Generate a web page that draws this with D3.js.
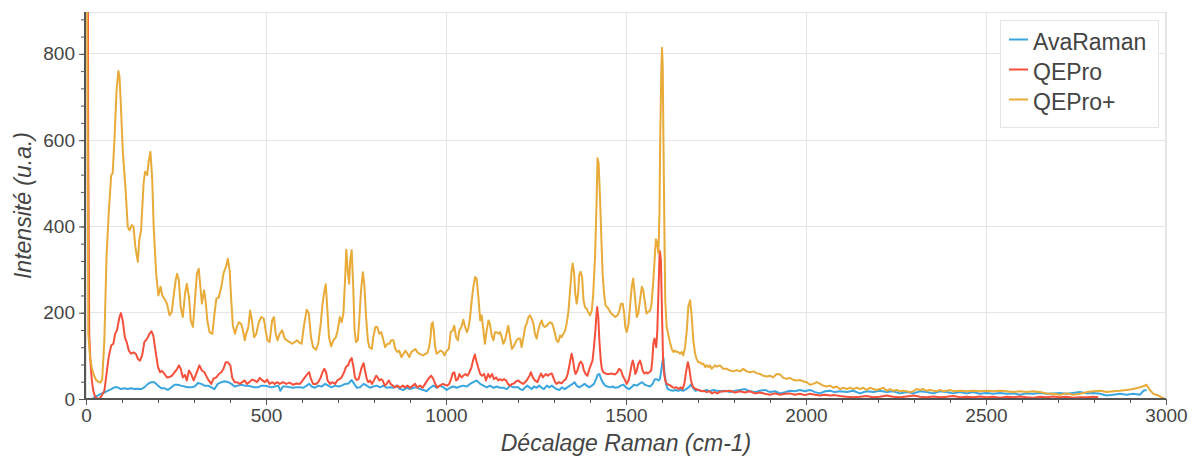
<!DOCTYPE html>
<html>
<head>
<meta charset="utf-8">
<script src="https://cdn.jsdelivr.net/npm/d3@7"></script>
<style>
  html, body { margin: 0; padding: 0; background: #fff; }
  svg { display: block; font-family: "Liberation Sans", Arial, Helvetica, sans-serif; }
</style>
</head>
<body>
<svg id="chart" width="1197" height="456"></svg>
<script>
// Raman spectra measured with three spectrometers (intensity in arbitrary units)
const seriesNames = ["AvaRaman", "QEPro", "QEPro+"];
const xTicks = [0, 500, 1000, 1500, 2000, 2500, 3000];
const yTicks = [0, 200, 400, 600, 800];

const avaShift = [20,23,32,42,51,60,70,79,88,97,107,116,125,135,144,153,162,172,181,190,200,209,218,227,237,246,255,264,274,283,292,302,311,320,329,339,348,357,366,376,385,395,404,413,422,431,441,450,459,468,478,487,496,506,515,524,534,540,547,556,566,575,584,594,
604,613,620,627,636,645,655,664,673,682,692,701,710,720,729,738,745,752,761,771,780,789,798,808,817,826,835,845,854,863,872,882,891,900,909,919,928,937,946,956,965,974,983,993,1002,1011,1020,1030,1039,1048,1058,1067,1076,1085,1095,1104,1113,1122,1132,1141,1150,1159,1169,1178,1187,1201,
1206,1213,1220,1226,1232,1238,1244,1252,1259,1266,1272,1280,1287,1294,1300,1307,1315,1322,1330,1337,1344,1352,1357,1363,1370,1378,1385,1391,1398,1405,1411,1417,1421,1426,1431,1435,1442,1448,1456,1463,1470,1478,1485,1493,1500,1508,1515,1522,1530,1537,1545,1552,1559,1567,1574,1580,1585,1590,1594,1598,1601,1604,1607,1611,1616,1622,1630,1637,1645,1652,1659,1667,1674,1680,1685,1693,1700,1708,1715,1724,1733,1743,1752,
1761,1775,1789,1803,1817,1830,1844,1858,1872,1886,1900,1914,1928,1942,1955,1969,1983,1997,2011,2025,2039,2053,2067,2080,2094,2113,2131,2150,2168,2187,2205,2224,2242,2261,2280,2298,2317,2335,2354,2372,2391,2409,2428,2446,2465,2483,2502,2520,2539,2557,2576,2594,2613,2631,2650,2668,2687,2705,2724,2742,2761,2780,2798,2817,2835,2854,2872,2891,2909,2928,2937,2946];
const avaIntensity = [2,4,8,12,15,19,23,27,27,23,25,23,25,23,24,23,27,35,39,39,31,25,25,21,27,33,33,31,29,27,27,29,37,35,31,31,27,23,35,39,41,39,35,29,31,33,31,31,29,27,27,31,31,29,27,29,31,19,29,29,27,26,27,27,
26,31,35,29,26,31,29,35,31,27,31,29,31,35,36,44,35,26,27,35,31,26,29,31,27,31,26,27,26,31,23,21,26,23,26,27,23,21,18,26,31,26,31,27,21,26,29,26,29,31,29,35,39,43,35,31,27,31,26,29,26,26,23,31,27,27,
23,21,27,31,27,23,29,26,31,26,23,31,27,31,27,23,21,27,23,27,31,35,39,31,27,31,35,31,27,31,35,46,56,58,46,39,31,29,27,29,26,27,31,33,27,23,27,33,31,35,39,33,31,29,35,46,46,43,46,66,85,95,60,35,23,21,19,21,19,21,19,23,27,33,27,19,21,19,18,21,18,21,19,
18,19,16,19,21,23,18,16,19,21,16,18,13,16,19,18,21,18,21,16,13,18,19,16,18,16,19,13,18,16,19,16,18,13,16,13,18,16,13,18,16,13,16,13,16,12,14,12,14,12,13,10,13,12,14,12,13,14,12,14,16,13,14,12,8,10,12,10,12,10,19,21];

const qeShift = [2,6,9,12,16,20,25,30,35,40,45,51,57,63,70,76,81,86,93,97,102,108,113,119,125,132,139,144,150,156,162,170,176,182,187,193,200,206,211,218,225,232,239,246,252,258,263,269,275,280,286,292,299,306,315,322,329,336,341,348,354,362,369,376,382,388,394,401,406,413,419,427,434,441,447,454,461,468,475,483,490,497,503,510,518,524,531,538,547,556,566,575,584,594,
602,608,615,620,625,631,639,645,652,657,662,667,671,678,684,692,698,704,710,717,722,728,733,738,743,747,752,757,761,766,771,775,780,784,789,794,800,806,810,815,820,824,830,835,841,846,852,858,865,872,880,886,893,900,908,914,920,928,935,942,948,954,959,965,970,976,983,991,997,1004,1009,1014,1019,1023,1028,1033,1037,1043,1048,1054,1060,1065,1071,1075,1080,1084,1089,1095,1100,1106,1111,1117,1122,1128,1133,1139,1145,1150,1156,1161,1167,1172,1178,1184,1189,1195,1201,
1206,1215,1224,1232,1236,1241,1247,1254,1259,1264,1269,1273,1278,1283,1289,1294,1298,1303,1307,1314,1321,1328,1333,1338,1342,1346,1349,1353,1357,1360,1365,1370,1374,1379,1383,1388,1393,1397,1402,1407,1411,1415,1418,1420,1423,1426,1430,1433,1437,1443,1448,1454,1459,1465,1470,1476,1481,1486,1491,1496,1502,1507,1511,1516,1519,1522,1526,1530,1534,1539,1543,1546,1551,1556,1560,1565,1570,1573,1576,1579,1582,1584,1587,1590,1593,1594,1597,1600,1603,1606,1609,1613,1619,1624,1630,1635,1641,1646,1652,1657,1662,1666,1670,1672,1676,1680,1683,1687,1694,1702,1709,1717,1724,1732,1739,1746,1754,
1761,1775,1789,1803,1817,1830,1844,1858,1872,1886,1900,1914,1928,1942,1955,1969,1983,1997,2011,2025,2039,2053,2067,2080,2094,2113,2131,2150,2168,2187,2205,2224,2242,2261,2280,2298,2317,2335,2354,2372,2391,2409,2428,2446,2465,2483,2502,2520,2539,2557,2576,2594,2613,2631,2650,2668,2687,2705,2724,2742,2761,2780,2798,2812];
const qeIntensity = [3000,600,150,90,45,20,6,2,0,3,10,19,58,97,124,128,151,159,190,199,182,143,132,112,105,108,104,93,89,101,132,140,151,157,147,112,74,62,65,58,50,51,54,62,68,78,70,50,56,43,66,58,43,58,78,66,62,50,43,35,47,50,58,62,70,85,85,78,50,39,39,35,39,43,35,39,45,43,39,49,43,39,45,35,39,35,39,35,39,35,38,33,36,35,
43,50,58,62,46,35,35,39,50,62,70,62,43,35,39,35,43,46,50,62,74,78,89,95,74,50,44,46,58,74,83,66,46,39,43,35,43,54,50,43,46,43,31,35,43,35,31,27,31,26,31,27,31,26,31,35,27,31,26,35,43,50,54,46,35,27,31,35,33,31,35,46,60,62,43,46,58,50,54,58,54,62,74,89,103,89,74,58,54,58,43,58,50,58,46,50,43,46,43,46,43,35,31,35,36,41,43,
39,35,43,54,62,50,43,39,50,59,50,54,58,54,58,59,50,39,35,39,36,43,46,58,74,93,105,89,66,58,66,81,87,81,66,58,54,66,78,89,120,159,198,213,190,136,89,70,62,59,58,58,59,58,57,62,70,66,54,46,35,43,58,81,89,78,58,66,81,89,78,66,59,62,59,62,66,89,128,140,128,120,159,244,329,343,321,198,89,58,43,35,33,31,27,26,27,23,27,23,35,58,78,85,70,46,35,27,23,21,18,19,16,18,13,16,13,
17,18,19,15,18,15,18,13,15,12,10,13,10,12,13,10,12,9,12,10,8,10,8,9,7,5,4,5,7,4,5,8,5,4,6,8,5,4,6,4,5,7,4,5,4,6,4,5,3,5,4,6,4,3,5,4,6,4,5,3,4,4,5,4];

const plusShift = [0,3,6.5,11,16,22,28,34,40,45,51,57,63,70,74,79,85,90,93,97,102,110,116,121,127,132,137,144,148,153,160,164,170,174,179,184,188,195,201,207,212,218,225,232,238,243,249,253,258,263,269,275,280,286,291,297,302,308,313,317,322,328,332,337,343,351,357,362,369,376,382,390,394,399,404,408,414,419,425,431,436,441,445,451,456,461,467,473,480,487,494,499,504,510,517,522,527,532,538,545,552,558,566,573,580,586,594,
599,605,613,619,625,631,639,645,652,656,661,666,670,675,681,687,694,699,705,710,715,720,723,727,731,734,738,742,746,750,755,759,764,769,773,778,783,787,794,798,804,809,815,820,824,831,837,843,848,854,859,865,870,876,882,887,893,898,904,909,915,920,926,931,937,943,948,953,957,960,963,966,970,974,980,985,991,996,1002,1008,1013,1019,1023,1028,1033,1037,1043,1048,1053,1058,1062,1067,1071,1076,1081,1085,1090,1095,1099,1104,1108,1113,1118,1122,1127,1132,1136,1141,1146,1150,1155,1159,1164,1169,1173,1178,1183,1187,1192,1196,1201,
1206,1210,1215,1220,1224,1229,1233,1238,1243,1247,1252,1256,1261,1266,1270,1275,1280,1284,1289,1294,1298,1303,1307,1312,1317,1321,1326,1331,1335,1340,1344,1349,1352,1356,1359,1363,1367,1370,1374,1378,1382,1386,1391,1395,1400,1405,1409,1414,1418,1421,1424,1428,1432,1435,1439,1443,1448,1454,1459,1465,1470,1476,1481,1486,1491,1495,1498,1502,1507,1511,1516,1520,1525,1530,1534,1539,1544,1548,1553,1557,1562,1567,1571,1576,1580,1583,1587,1590,1593,1595,1598,1600,1602,1604,1607,1609,1613,1618,1622,1627,1632,1636,1641,1645,1650,1655,1659,1664,1669,1673,1678,1682,1687,1692,1696,1701,1706,1710,1715,1720,1724,1729,1733,1738,1743,1747,1752,
1761,1770,1780,1789,1798,1807,1817,1826,1835,1844,1854,1863,1872,1881,1891,1900,1909,1918,1928,1937,1946,1955,1965,1974,1983,1992,2002,2011,2020,2030,2039,2048,2057,2067,2076,2085,2094,2104,2113,2122,2131,2141,2150,2159,2168,2178,2187,2196,2205,2215,2224,2233,2242,2252,2261,2270,2280,2289,2298,2307,2317,2326,2335,2344,2354,2363,2372,2381,2391,2400,2409,2428,2446,2465,2483,2502,2520,2539,2557,2576,2594,2613,2631,2650,2668,2687,2705,2724,2742,2761,2780,2798,2817,2835,2854,2872,2891,2909,2923,2935,2946,2955,2965,2979,2988,2997];
const plusIntensity = [3000,1000,150,100,72,55,44,40,38,45,136,329,430,519,523,600,717,760,748,678,577,484,399,391,403,399,353,318,368,391,500,527,519,550,573,508,399,290,240,260,240,232,221,194,201,236,275,290,275,213,190,244,267,236,182,167,221,290,302,267,221,252,229,182,155,151,198,232,236,260,291,310,325,298,221,170,151,167,178,174,159,136,151,167,205,182,143,151,178,190,186,159,136,132,182,190,151,136,151,159,140,136,132,128,132,136,130,
128,167,207,198,143,120,114,128,174,213,244,266,213,143,122,136,143,159,190,178,198,283,346,298,267,322,345,267,159,132,136,182,252,294,267,190,136,120,116,143,167,167,151,155,143,120,128,128,136,136,116,109,112,97,105,112,105,97,109,112,116,109,105,103,101,105,106,120,143,174,178,159,120,105,109,112,109,101,112,116,155,159,170,143,136,159,167,184,167,155,163,190,225,260,283,279,236,182,194,159,128,159,182,174,147,136,155,155,151,155,143,128,136,155,170,143,116,120,129,136,140,
140,120,143,167,174,190,194,186,174,151,140,159,174,182,170,167,170,174,178,176,167,151,136,132,147,143,151,159,174,202,244,298,314,291,244,221,244,287,295,283,229,213,209,202,194,205,244,329,446,558,546,461,360,291,244,217,213,205,198,194,190,194,202,221,221,198,167,155,174,213,260,279,236,190,198,229,260,252,221,198,202,205,221,275,329,370,360,337,430,600,756,814,771,600,368,229,167,147,132,116,109,112,109,109,105,109,101,120,159,213,229,198,136,105,93,85,85,81,82,74,78,74,78,70,74,78,75,
78,70,70,66,64,67,64,70,64,62,64,60,58,54,52,54,50,58,57,49,47,49,44,43,44,41,39,33,35,39,35,31,29,31,26,29,23,26,23,26,23,26,23,26,21,26,23,21,23,26,19,23,19,21,18,19,18,16,18,23,21,23,19,21,19,18,21,18,19,21,18,19,18,19,18,19,18,19,18,16,18,16,18,16,13,12,10,13,10,12,16,18,19,16,18,19,21,23,26,29,33,21,12,8,4,0];

const seriesColors = ["#3aa5de", "#f5503b", "#e8aa38"];

// plot frame in page pixels
const frame = { left: 86, right: 1166, top: 12, bottom: 399 };
const textColor = "#444";
const gridColor = "#e5e5e5";
const axisColor = "#555";

const svg = d3.select("#chart");
const x = d3.scaleLinear().domain([0, 3000]).range([frame.left, frame.right]);
const y = d3.scaleLinear().domain([0, 897]).range([frame.bottom, frame.top]);

svg.append("defs").append("clipPath").attr("id", "plotClip")
  .append("rect")
  .attr("x", frame.left).attr("y", frame.top)
  .attr("width", frame.right - frame.left).attr("height", frame.bottom - frame.top);

// grid lines
const grid = svg.append("g").attr("class", "grid");
grid.selectAll("line.gx").data(xTicks.slice(1)).join("line")
  .attr("x1", d => x(d)).attr("x2", d => x(d))
  .attr("y1", frame.top).attr("y2", frame.bottom)
  .attr("stroke", gridColor).attr("stroke-width", 1).attr("shape-rendering", "crispEdges");
grid.selectAll("line.gy").data(yTicks.slice(1)).join("line")
  .attr("x1", frame.left).attr("x2", frame.right)
  .attr("y1", d => y(d)).attr("y2", d => y(d))
  .attr("stroke", gridColor).attr("stroke-width", 1).attr("shape-rendering", "crispEdges");

// plot outline
svg.append("rect")
  .attr("x", frame.left + 0.5).attr("y", frame.top + 0.5)
  .attr("width", frame.right - frame.left - 1).attr("height", frame.bottom - frame.top)
  .attr("fill", "none").attr("stroke", gridColor).attr("stroke-width", 1);

// spectra
const series = [
  { name: seriesNames[0], xs: avaShift, ys: avaIntensity, color: seriesColors[0] },
  { name: seriesNames[1], xs: qeShift, ys: qeIntensity, color: seriesColors[1] },
  { name: seriesNames[2], xs: plusShift, ys: plusIntensity, color: seriesColors[2] }
];
const line = d3.line().x(d => x(d[0])).y(d => y(d[1]));
const plot = svg.append("g").attr("clip-path", "url(#plotClip)");
series.forEach(s => {
  const pts = s.xs.map((v, i) => [v, s.ys[i]]);
  plot.append("path")
    .datum(pts)
    .attr("d", line)
    .attr("fill", "none")
    .attr("stroke", s.color)
    .attr("stroke-width", 2)
    .attr("stroke-linejoin", "round");
});

// x axis
const xAxisG = svg.append("g").attr("transform", `translate(0,${frame.bottom})`);
xAxisG.append("g")
  .call(d3.axisBottom(x).tickValues(d3.range(0, 3001, 100)).tickSize(4).tickFormat(""))
  .call(g => g.select(".domain").remove())
  .call(g => g.selectAll("line").attr("stroke", axisColor));
xAxisG.append("g")
  .call(d3.axisBottom(x).tickValues(xTicks).tickSizeInner(6).tickSizeOuter(0).tickPadding(4).tickFormat(d3.format("d")))
  .call(g => g.select(".domain").attr("stroke", axisColor).attr("stroke-width", 2)
    .attr("d", `M${frame.left - 1},0H${frame.right}`))
  .call(g => g.selectAll("line").attr("stroke", axisColor))
  .call(g => g.selectAll("text").attr("fill", textColor).attr("font-size", 19)
    .attr("font-family", "'Liberation Sans', Arial, sans-serif"));

// y axis
const yAxisG = svg.append("g").attr("transform", `translate(${frame.left - 1},0)`);
yAxisG.append("g")
  .call(d3.axisLeft(y).tickValues(d3.range(0, 897, 40)).tickSize(4).tickFormat(""))
  .call(g => g.select(".domain").remove())
  .call(g => g.selectAll("line").attr("stroke", axisColor));
yAxisG.append("g")
  .call(d3.axisLeft(y).tickValues(yTicks).tickSizeInner(6).tickSizeOuter(0).tickPadding(4).tickFormat(d3.format("d")))
  .call(g => g.select(".domain").attr("stroke", axisColor).attr("stroke-width", 2)
    .attr("d", `M0,${frame.top}V${frame.bottom + 1}`))
  .call(g => g.selectAll("line").attr("stroke", axisColor))
  .call(g => g.selectAll("text").attr("fill", textColor).attr("font-size", 19)
    .attr("font-family", "'Liberation Sans', Arial, sans-serif"));

// axis titles
svg.append("text")
  .attr("x", (frame.left + frame.right) / 2).attr("y", 451)
  .attr("text-anchor", "middle")
  .attr("font-size", 23).attr("font-style", "italic").attr("fill", textColor)
  .text("Décalage Raman (cm-1)");
svg.append("text")
  .attr("transform", `translate(31,${(frame.top + frame.bottom) / 2}) rotate(-90)`)
  .attr("text-anchor", "middle")
  .attr("font-size", 23).attr("font-style", "italic").attr("fill", textColor)
  .text("Intensité (u.a.)");

// legend
const legend = svg.append("g").attr("transform", "translate(1000,20)");
legend.append("rect")
  .attr("x", 0.5).attr("y", 0.5).attr("width", 158).attr("height", 107)
  .attr("fill", "#fff").attr("stroke", gridColor).attr("stroke-width", 1);
series.forEach((s, i) => {
  const cy = 19.5 + i * 30;
  legend.append("line")
    .attr("x1", 9).attr("x2", 28).attr("y1", cy).attr("y2", cy)
    .attr("stroke", s.color).attr("stroke-width", 2);
  legend.append("text")
    .attr("x", 33).attr("y", cy + 10)
    .attr("font-size", 23).attr("fill", textColor)
    .text(s.name);
});
</script>
</body>
</html>
